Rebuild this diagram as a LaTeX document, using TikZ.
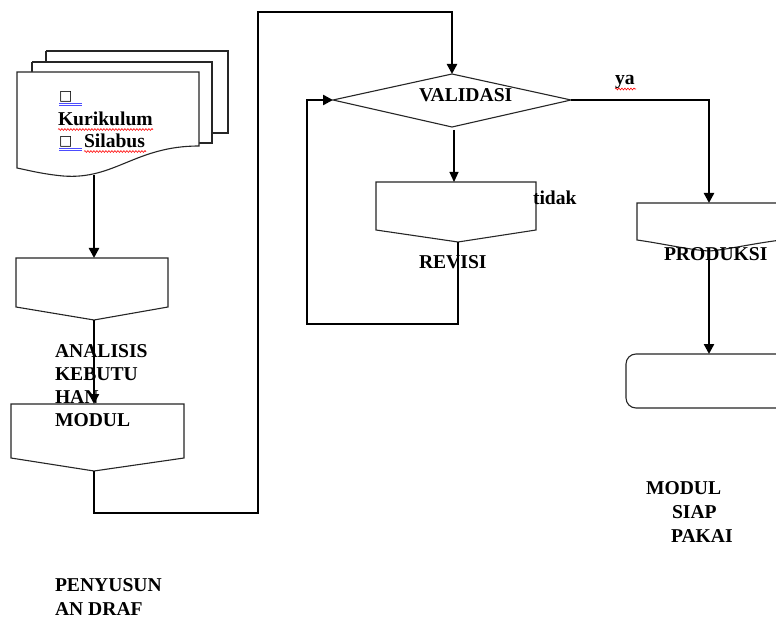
\documentclass[tikz,border=0pt]{standalone}
\usepackage{fontspec}
\setmainfont{Liberation Serif}
\newfontfamily\symfont{DejaVu Sans}
\usetikzlibrary{arrows.meta,decorations.pathmorphing,shapes.geometric}
\begin{document}
\begin{tikzpicture}[x=1pt,y=-1pt,
  shapeline/.style={draw=black!85,line width=1.1pt,line join=miter},
  conn/.style={draw=black,line width=2.4pt,-{Triangle[length=10pt,width=10pt]}},
  connthin/.style={draw=black,line width=1.1pt,-{Triangle[length=10pt,width=9pt]}},
  lbl/.style={anchor=base west,inner sep=0pt,outer sep=0pt,font=\fontsize{19.6}{23}\selectfont\bfseries},
  spell/.style={draw=red,line width=0.6pt,decorate,decoration={snake,amplitude=0.9pt,segment length=3pt}},
  link/.style={draw=blue!70!white,line width=0.8pt}]
\clip (0,0) rectangle (776,636);
\fill[white] (0,0) rectangle (776,636);

% ---- multi-document ----
\draw[shapeline,fill=white] (46,51) -- (228,51) -- (228,133) -- (212,133);
\draw[shapeline,fill=white] (32,62) -- (212,62) -- (212,143) -- (199,143);
\draw[shapeline,fill=white] (46,51) -- (46,62);
\draw[shapeline,fill=white] (32,62) -- (32,72);
\draw[shapeline,fill=white] (17,72) -- (199,72) -- (199,146)
   .. controls (135,146) and (115,180) .. (63,176)
   .. controls (42,174) and (27,170) .. (17,168) -- cycle;
\coordinate (docb) at (94,175);
\node[lbl,font=\fontsize{14}{14}\selectfont\symfont] (sq1) at (59,101) {□};
\node[lbl] (kur) at (58,126) {Kurikulum};
\node[lbl,font=\fontsize{14}{14}\selectfont\symfont] (sq2) at (59,146) {□};
\node[lbl] (sil) at (84,148) {Silabus};
\draw[link] (59,103) -- (82,103) (59,105.5) -- (82,105.5);
\draw[link] (59,148) -- (82,148) (59,150.5) -- (82,150.5);
\draw[spell] (58,129.5) -- (153,129.5);
\draw[spell] (84,151.5) -- (146,151.5);

% ---- box 1 (analisis) ----
\draw[shapeline,fill=white] (16,258) -- (168,258) -- (168,307) -- (94,320) -- (16,307) -- cycle;
\coordinate (b1t) at (94,258);
\coordinate (b1b) at (94,320);
% ---- box 2 (penyusunan draf) ----
\draw[shapeline,fill=white] (11,404) -- (184,404) -- (184,458) -- (94,471) -- (11,458) -- cycle;
\coordinate (b2t) at (94,404);
\coordinate (b2b) at (94,471);

% ---- diamond validasi ----
\draw[shapeline,fill=white] (333,100) -- (452,74) -- (571,100) -- (452,127) -- cycle;
\coordinate (dt) at (452,74);
\coordinate (db) at (454,130);
\coordinate (dl) at (333,100);
\coordinate (dr) at (571,100);

% ---- revisi box ----
\draw[shapeline,fill=white] (376,182) -- (536,182) -- (536,230) -- (458,242) -- (376,230) -- cycle;
\coordinate (rt) at (454,182);
\coordinate (rb) at (458,242);

% ---- produksi box ----
\draw[shapeline,fill=white] (637,203) -- (781,203) -- (781,240)
   .. controls (750,244) and (725,250) .. (709,251)
   .. controls (690,250) and (665,244) .. (637,240) -- cycle;
\coordinate (pt) at (709,203);
\coordinate (pb) at (709,251);

% ---- modul siap pakai ----
\draw[shapeline,rounded corners=10pt,fill=white] (626,354) rectangle (792,408);
\coordinate (mt) at (709,354);

% ---- labels ----
\node[lbl] (an1) at (55,357) {ANALISIS};
\node[lbl] (an2) at (55,380) {KEBUTU};
\node[lbl] (an3) at (55,403) {HAN};
\node[lbl] (an4) at (55,426) {MODUL};
\node[lbl] (py1) at (55,591) {PENYUSUN};
\node[lbl] (py2) at (55,615) {AN DRAF};
\node[lbl] (val) at (419,102) {VALIDASI};
\node[lbl] (tdk) at (533,205) {tidak};
\node[lbl] (rev) at (419,269) {REVISI};
\node[lbl] (ya) at (615,85) {ya};
\draw[spell] (615,89) -- (636,89);
\node[lbl] (prd) at (664,261) {PRODUKSI};
\node[lbl] (msp1) at (646,494) {MODUL};
\node[lbl] (msp2) at (672,518) {SIAP};
\node[lbl] (msp3) at (671,542) {PAKAI};

% ---- connectors ----
\draw[conn] (docb) -- (b1t);
\draw[conn] (b1b) -- (b2t);
\draw[conn] (b2b) -- (94,513) -- (258,513) -- (258,12) -- (452,12) -- (dt);
\draw[connthin] (db) -- (rt);
\draw[conn] (rb) -- (458,324) -- (307,324) -- (307,100) -- (dl);
\draw[conn] (dr) -- (709,100) -- (pt);
\draw[conn] (pb) -- (mt);
\end{tikzpicture}
\end{document}
